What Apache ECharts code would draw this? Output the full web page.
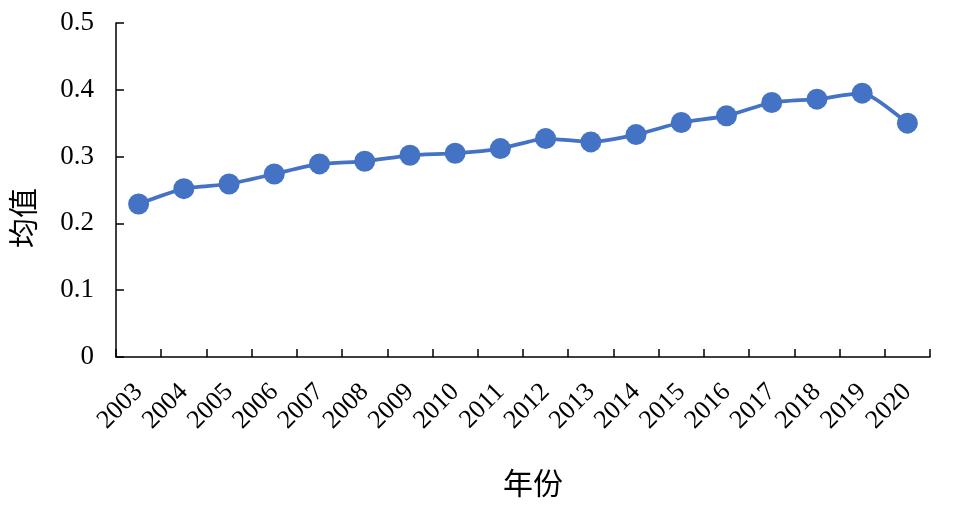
<!DOCTYPE html>
<html><head><meta charset="utf-8">
<script src="https://cdn.jsdelivr.net/npm/echarts@6/dist/echarts.min.js"></script>
<style>html,body{margin:0;padding:0;background:#fff}#c{width:954px;height:513px}</style>
</head><body><div id="c"></div>
<script>
const years = ['2003','2004','2005','2006','2007','2008','2009','2010','2011','2012','2013','2014','2015','2016','2017','2018','2019','2020'];
const meanValues = [0.229,0.252,0.259,0.274,0.289,0.293,0.302,0.305,0.312,0.327,0.322,0.333,0.351,0.361,0.381,0.386,0.395,0.350];
const yTicks = [0, 0.1, 0.2, 0.3, 0.4, 0.5];
const xTitle = '年份';
const yTitle = '均值';

const chart = echarts.init(document.getElementById('c'));
const serif = 'Liberation Serif';
const cjk = 'Noto Sans CJK SC';
chart.setOption({
  animation: false,
  grid: {left: 116, right: 24, top: 23, bottom: 156, containLabel: false},
  xAxis: {
    type: 'category', data: years, boundaryGap: true,
    axisLine: {lineStyle: {color: '#000', width: 1.5}},
    axisTick: {show: true, length: 8, inside: true, lineStyle: {color: '#000', width: 1.5}},
    axisLabel: {rotate: 45, interval: 0, color: '#000', fontFamily: serif, fontSize: 26, margin: 31},
    splitLine: {show: false}
  },
  yAxis: {
    type: 'value', min: yTicks[0], max: yTicks[yTicks.length-1], interval: 0.1,
    axisLine: {show: true, lineStyle: {color: '#000', width: 1.5}},
    axisTick: {show: true, length: 8, inside: true, lineStyle: {color: '#000', width: 1.5}},
    axisLabel: {color: '#000', fontFamily: serif, fontSize: 27, margin: 22},
    splitLine: {show: false}
  },
  graphic: [
    {type: 'text', left: 503, top: 468, style: {text: xTitle, fontFamily: cjk, fontSize: 30, fill: '#000'}},
    {type: 'text', x: 8, y: 248, rotation: Math.PI/2, style: {text: yTitle, fontFamily: cjk, fontSize: 30, fill: '#000'}}
  ],
  series: [{
    type: 'line', data: meanValues, smooth: 0.2,
    symbol: 'circle', symbolSize: 21,
    lineStyle: {color: '#4472C4', width: 3.75},
    itemStyle: {color: '#4472C4'}
  }]
});
</script></body></html>
